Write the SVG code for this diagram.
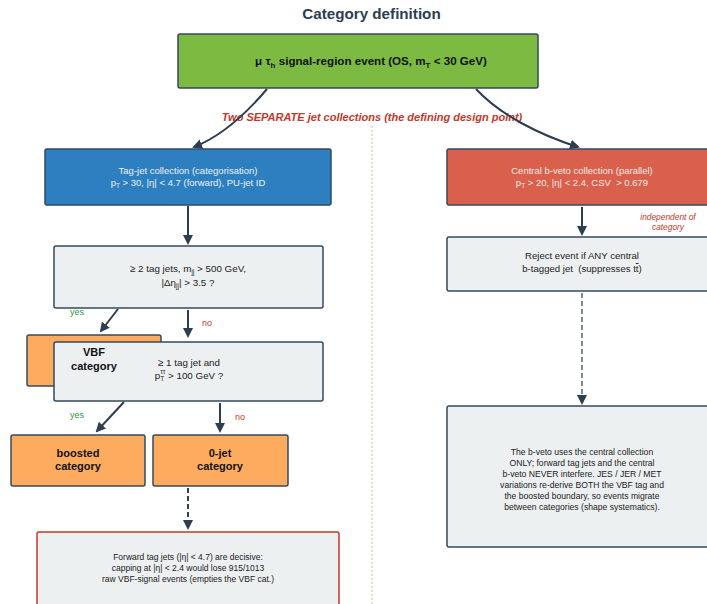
<svg xmlns="http://www.w3.org/2000/svg" width="707" height="604" viewBox="0 0 707 604">
<style>
text{font-family:"Liberation Sans",Arial,sans-serif;fill:#222}
.t{font-size:9.8px;text-anchor:middle}
.tw{font-size:9.5px;text-anchor:middle}
.b{font-weight:bold;font-size:11px;text-anchor:middle;fill:#111}
.box{stroke:#34495e;stroke-width:1.5}
.g{fill:#ecf0f1}
.o{fill:#fdac5f}
.c{fill:none;stroke:#2c3e50;stroke-width:2}
.yes{fill:#2e9b3a;font-size:9px}
.no{fill:#c0392b;font-size:9px}
.n{font-size:8.6px;text-anchor:middle}
</style>
<defs>
<marker id="ah" markerWidth="10" markerHeight="10" refX="8" refY="5" orient="auto" markerUnits="userSpaceOnUse">
<path d="M0,0 L10,5 L0,10 Z" fill="#2c3e50"/>
</marker>
</defs>
<rect width="707" height="604" fill="#fff"/>
<text x="371.5" y="19" style="font-size:15.2px;font-weight:bold;fill:#2c3e50;text-anchor:middle">Category definition</text>
<line x1="372" y1="126" x2="372" y2="604" stroke="#e3a19a" stroke-width="1.2" stroke-dasharray="1.5,2.5"/>
<text x="372" y="121" style="font-size:11px;font-weight:bold;font-style:italic;fill:#c0392b;text-anchor:middle">Two SEPARATE jet collections (the defining design point)</text>

<g id="connectors">
<path class="c" d="M267,89 C245,115 222,136 194,147" marker-end="url(#ah)"/>
<path class="c" d="M476,89 C500,115 540,135 578,147" marker-end="url(#ah)"/>
<path class="c" d="M188,206 L188,243" marker-end="url(#ah)"/>
<path class="c" d="M118,309 L101,331" marker-end="url(#ah)"/>
<path class="c" d="M188,310 L188,336" marker-end="url(#ah)"/>
<path class="c" d="M124,402 L97,431" marker-end="url(#ah)"/>
<path class="c" d="M220,403 L220,431" marker-end="url(#ah)"/>
<path class="c" d="M188,488 L188,528" stroke-dasharray="5,3" marker-end="url(#ah)"/>
<path class="c" d="M582,207 L582,234" marker-end="url(#ah)"/>
<path d="M582,293 L582,396" fill="none" stroke="#7f8c8d" stroke-width="2" stroke-dasharray="5,3"/>
<path class="c" d="M582,396 L582,403" marker-end="url(#ah)"/>
<text class="yes" x="70" y="315">yes</text>
<text class="no" x="202" y="326">no</text>
<text class="yes" x="70" y="418">yes</text>
<text class="no" x="235" y="420">no</text>
<text x="668" y="220" style="font-size:8.4px;font-style:italic;fill:#c0392b;text-anchor:middle">independent of</text>
<text x="668" y="230" style="font-size:8.4px;font-style:italic;fill:#c0392b;text-anchor:middle">category</text>
</g>

<g id="signal">
<rect class="box" x="178" y="34" width="360" height="54" rx="2" fill="#7dba42"/>
<text x="371" y="65" style="font-size:11.6px;font-weight:bold;text-anchor:middle;fill:#111">μ τ<tspan font-size="8" dy="3">h</tspan><tspan dy="-3"> signal-region event (OS, m</tspan><tspan font-size="8" dy="3">T</tspan><tspan dy="-3"> &lt; 30 GeV)</tspan></text>
</g>

<g id="tagjet">
<rect class="box" x="45" y="149" width="286" height="56" rx="2" fill="#2e7fbf"/>
<text class="tw" x="188" y="174" style="fill:#eaf2fa">Tag-jet collection (categorisation)</text>
<text class="tw" x="188" y="186" style="fill:#eaf2fa">p<tspan font-size="6.5" dy="2">T</tspan><tspan dy="-2"> &gt; 30, |η| &lt; 4.7 (forward), PU-jet ID</tspan></text>
</g>

<g id="bveto">
<rect class="box" x="447" y="149" width="262" height="56" rx="2" fill="#d9604c"/>
<text class="tw" x="582" y="174" style="fill:#fbeae6">Central b-veto collection (parallel)</text>
<text class="tw" x="582" y="186" style="fill:#fbeae6">p<tspan font-size="6.5" dy="2">T</tspan><tspan dy="-2"> &gt; 20, |η| &lt; 2.4, CSV&#160; &gt; 0.679</tspan></text>
</g>

<g id="q1">
<rect class="box g" x="54" y="246" width="269" height="62" rx="2"/>
<text class="t" x="188" y="272">≥ 2 tag jets, m<tspan font-size="6.5" dy="2">jj</tspan><tspan dy="-2"> &gt; 500 GeV,</tspan></text>
<text class="t" x="188" y="286">|Δη<tspan font-size="6.5" dy="2">jj</tspan><tspan dy="-2">| &gt; 3.5 ?</tspan></text>
</g>

<g id="vbf">
<rect class="box o" x="27" y="335" width="134" height="51" rx="2"/>
</g>

<g id="q2">
<rect class="box g" x="54" y="342" width="269" height="59" rx="2"/>
<text class="t" x="189" y="366">≥ 1 tag jet and</text>
<text class="t" x="189" y="379">p<tspan font-size="6.5" dy="2">T</tspan><tspan font-size="6.5" dx="-4" dy="-7">ττ</tspan><tspan dy="5"> &gt; 100 GeV ?</tspan></text>
</g>

<g id="vbf-label">
<text class="b" x="94" y="356">VBF</text>
<text class="b" x="94" y="370">category</text>
</g>

<g id="boosted">
<rect class="box o" x="11" y="435" width="134" height="51" rx="2"/>
<text class="b" x="78" y="457">boosted</text>
<text class="b" x="78" y="470">category</text>
</g>

<g id="zerojet">
<rect class="box o" x="153" y="435" width="135" height="51" rx="2"/>
<text class="b" x="220" y="457">0-jet</text>
<text class="b" x="220" y="470">category</text>
</g>

<g id="forward-note">
<rect x="37" y="532" width="302" height="90" rx="2" fill="#ecf0f1" stroke="#c0392b" stroke-width="1.5"/>
<text x="188" y="560" style="font-size:8.5px;text-anchor:middle">Forward tag jets (|η| &lt; 4.7) are decisive:</text>
<text x="188" y="571" style="font-size:8.5px;text-anchor:middle">capping at |η| &lt; 2.4 would lose 915/1013</text>
<text x="188" y="582" style="font-size:8.5px;text-anchor:middle">raw VBF-signal events (empties the VBF cat.)</text>
</g>

<g id="reject">
<rect class="box g" x="447" y="237" width="262" height="54" rx="2"/>
<text class="t" x="582" y="259" style="font-size:9.6px">Reject event if ANY central</text>
<text class="t" x="582" y="272" style="font-size:9.6px">b-tagged jet&#160; (suppresses t<tspan text-decoration="overline">t</tspan>)</text>
</g>

<g id="bveto-note">
<rect class="box g" x="447" y="406" width="262" height="141" rx="2"/>
<text class="n" x="582" y="455">The b-veto uses the central collection</text>
<text class="n" x="582" y="466">ONLY; forward tag jets and the central</text>
<text class="n" x="582" y="477">b-veto NEVER interfere. JES / JER / MET</text>
<text class="n" x="582" y="488">variations re-derive BOTH the VBF tag and</text>
<text class="n" x="582" y="499">the boosted boundary, so events migrate</text>
<text class="n" x="582" y="510">between categories (shape systematics).</text>
</g>
</svg>
